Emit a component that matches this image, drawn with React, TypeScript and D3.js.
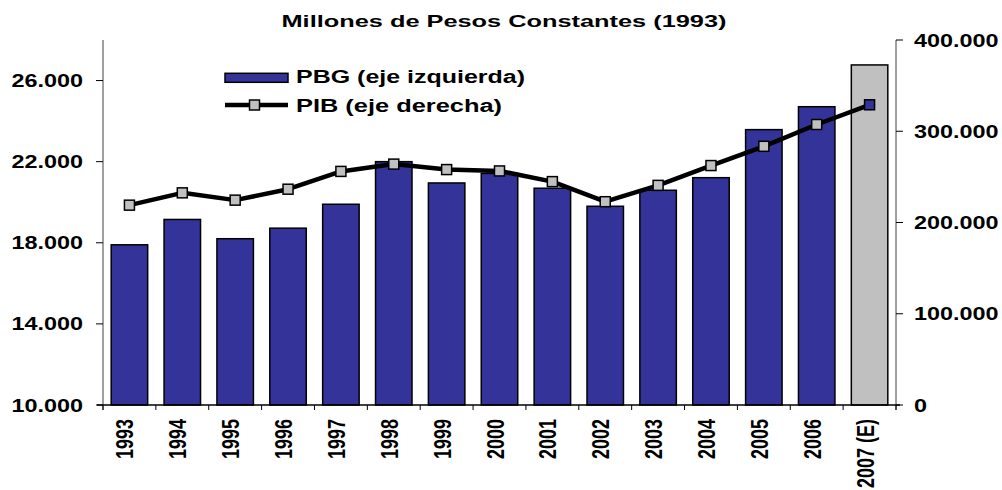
import React from "react";
import * as d3 from "d3";

const years = ["1993","1994","1995","1996","1997","1998","1999","2000","2001","2002","2003","2004","2005","2006","2007 (E)"];
const pbgValues = [17900, 19150, 18200, 18720, 19900, 22000, 20950, 21420, 20690, 19800, 20590, 21210, 23580, 24710, 26770];
const pibValues = [219000, 232500, 224500, 236500, 256000, 264000, 258000, 256500, 244800, 222800, 240700, 262400, 283500, 307400, 329000];
const leftTicks = [10000, 14000, 18000, 22000, 26000];
const rightTicks = [0, 100000, 200000, 300000, 400000];
const estimatedYear = "2007 (E)";

const W = 1002, H = 490;
const X0 = 103, X1 = 896, Y0 = 405, Y1 = 40;
const FONT = "'Liberation Sans', Arial, sans-serif";
const SX = 1.3;

const fmt = (v: number) => (v === 0 ? "0" : d3.format(",")(v).replace(/,/g, "."));

export default function App() {
  const x = d3.scaleBand<string>().domain(years).range([X0, X1]).paddingInner(0.31).paddingOuter(0.155);
  const yL = d3.scaleLinear().domain([10000, 28000]).range([Y0, Y1]);
  const yR = d3.scaleLinear().domain([0, 400000]).range([Y0, Y1]);
  const cx = (c: string) => (x(c) as number) + x.bandwidth() / 2;
  const line = d3.line<number>().x((_, i) => cx(years[i])).y((d) => yR(d));
  const step = x.step();
  const boundaries = d3.range(years.length + 1).map((i) => X0 + i * step);

  return (
    <svg width={W} height={H} style={{ position: "absolute", left: 0, top: 0, background: "#fff" }} fontFamily={FONT} fontWeight="bold">
      {/* title */}
      <text x={504} y={27.3} fontSize={17} textAnchor="middle" textLength={445} lengthAdjust="spacingAndGlyphs" fill="#000">
        Millones de Pesos Constantes (1993)
      </text>

      {/* bars */}
      {years.map((c, i) => (
        <rect key={c} x={x(c)} y={yL(pbgValues[i])} width={x.bandwidth()} height={Y0 - yL(pbgValues[i])}
          fill={c === estimatedYear ? "#c0c0c0" : "#333399"} stroke="#000" strokeWidth={1.5} />
      ))}

      {/* left axis */}
      <line x1={X0} x2={X0} y1={Y1} y2={Y0 + 5} stroke="#808080" strokeWidth={1.5} />
      {leftTicks.map((t) => (
        <g key={t}>
          <line x1={X0 - 7} x2={X0} y1={yL(t)} y2={yL(t)} stroke="#000" strokeWidth={1} />
          <text transform={`translate(83,${yL(t) + 6.5}) scale(${SX},1)`} fontSize={18} textAnchor="end" fill="#000">{fmt(t)}</text>
        </g>
      ))}

      {/* right axis */}
      <line x1={X1} x2={X1} y1={Y1} y2={Y0 + 5} stroke="#404040" strokeWidth={1} />
      {rightTicks.map((t) => (
        <g key={t}>
          <line x1={X1} x2={X1 + 7} y1={yR(t)} y2={yR(t)} stroke="#000" strokeWidth={1} />
          <text transform={`translate(914,${yR(t) + 6.5}) scale(${SX},1)`} fontSize={18} textAnchor="start" fill="#000">{fmt(t)}</text>
        </g>
      ))}

      {/* x axis */}
      <line x1={X0 - 6} x2={X1 + 4} y1={Y0} y2={Y0} stroke="#000" strokeWidth={1.5} />
      {boundaries.map((b, i) => (
        <line key={i} x1={b} x2={b} y1={Y0} y2={Y0 + 5} stroke="#000" strokeWidth={1} />
      ))}
      {years.map((c) => (
        <text key={c} transform={`translate(${cx(c) + 4},${419}) scale(${SX},1) rotate(-90)`} fontSize={18} textAnchor="end" fill="#000">{c}</text>
      ))}

      {/* line */}
      <path d={line(pibValues) as string} fill="none" stroke="#000" strokeWidth={4.5} strokeLinejoin="round" />
      {years.map((c, i) => (
        <rect key={c} x={cx(c) - 5} y={yR(pibValues[i]) - 5} width={10} height={10}
          fill={c === estimatedYear ? "#333399" : "#c0c0c0"} stroke="#000" strokeWidth={1.5} />
      ))}

      {/* legend */}
      <rect x={225} y={73.3} width={63} height={9} fill="#333399" stroke="#000" strokeWidth={1.5} />
      <text x={296} y={83.2} fontSize={17.5} textLength={229} lengthAdjust="spacingAndGlyphs" fill="#000">PBG (eje izquierda)</text>
      <line x1={225} x2={288} y1={105} y2={105} stroke="#000" strokeWidth={4.5} />
      <rect x={249.5} y={100} width={10} height={10} fill="#c0c0c0" stroke="#000" strokeWidth={1.5} />
      <text x={296} y={111.6} fontSize={17.5} textLength={206} lengthAdjust="spacingAndGlyphs" fill="#000">PIB (eje derecha)</text>
    </svg>
  );
}
